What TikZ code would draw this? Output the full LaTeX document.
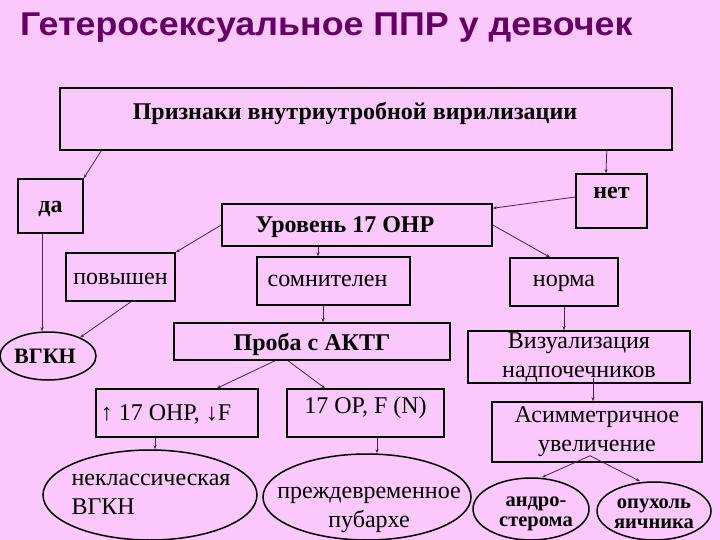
\documentclass[tikz,border=0pt]{standalone}
\usepackage{fontspec}
\setmainfont{Liberation Serif}
\newfontfamily\titlefont{Liberation Sans}
\usepackage{tikz}
\usetikzlibrary{shapes.geometric, arrows.meta}
\definecolor{slidebg}{RGB}{250,200,250}
\definecolor{titlecol}{RGB}{102,0,102}
\definecolor{linkcol}{RGB}{80,30,80}

\begin{document}
\begin{tikzpicture}[x=1pt, y=-1pt,
    box/.style={draw, line width=1.5pt, inner sep=0pt},
    oval/.style={draw, ellipse, line width=1.5pt, inner sep=0pt},
    bold/.style={font=\bfseries\fontsize{24}{29}\selectfont},
    small/.style={font=\bfseries\fontsize{20.5}{20}\selectfont},
    plain/.style={font=\fontsize{24}{29}\selectfont},
    link/.style={linkcol, line width=0.8pt, -{Stealth[length=4pt, width=3pt]}}]
    \fill [slidebg] (0, 0) rectangle (720, 540);
    \useasboundingbox (0, 0) rectangle (720, 540);

    \node [anchor=base west, inner sep=0pt, text=titlecol, font=\titlefont\bfseries\fontsize{33}{40}\selectfont] (title) at (20, 36) {\scalebox{1.085}[1]{Гетеросексуальное ППР у девочек}};

    \node [box, bold, anchor=base, minimum width=612pt, text height=32pt, text depth=30pt] (prz) at (366, 120) {Признаки внутриутробной вирилизации\hspace*{22pt}};
    \node [box, bold, anchor=base, minimum width=65pt, text height=34pt, text depth=20pt] (da) at (50.5, 213) {да};
    \node [box, bold, anchor=base, minimum width=71pt, text height=25pt, text depth=29pt] (net) at (611.5, 199) {нет};
    \node [box, bold, anchor=base, minimum width=270pt, text height=29pt, text depth=13pt] (ur) at (357, 233) {Уровень 17 ОНР\hspace*{24pt}};
    \node [box, plain, anchor=base, minimum width=109pt, text height=31pt, text depth=17pt] (pov) at (120.5, 284) {повышен};
    \node [box, plain, anchor=base, minimum width=153pt, text height=29pt, text depth=19pt] (som) at (333.5, 286) {сомнителен\hspace*{12pt}};
    \node [box, plain, anchor=base, minimum width=108pt, text height=28pt, text depth=20pt] (norm) at (564, 286) {норма};
    \node [box, bold, anchor=base, minimum width=276pt, text height=27pt, text depth=10pt] (prb) at (312, 350) {Проба с АКТГ};
    \node [box, plain, anchor=base, minimum width=162pt, text height=31pt, text depth=17pt] (up) at (177, 420) {↑ 17 ОНР, ↓F\hspace*{22pt}};
    \node [box, plain, anchor=base, minimum width=157pt, text height=24pt, text depth=24pt] (op) at (365.5, 413) {17 ОР, F (N)};
    \node [box, plain, align=center, minimum width=222pt, minimum height=52pt] (viz) at (579, 357) {Визуализация\\надпочечников};
    \node [box, plain, align=center, minimum width=210pt, minimum height=60pt] (asym) at (597, 432) {Асимметричное\\увеличение};

    \node [oval, font=\bfseries\fontsize{22}{26}\selectfont, minimum width=96pt, minimum height=48pt] (vgkn) at (48, 356) {ВГКН\hspace*{6pt}};
    \node [oval, minimum width=214pt, minimum height=90pt] (nekl) at (150, 495) {};
    \node [plain, align=left] (nekl-t) at (151, 494) {неклассическая\\ВГКН};
    \node [oval, minimum width=208pt, minimum height=86pt] (prj) at (367, 497) {};
    \node [plain, align=center] (prj-t) at (369, 510) {преждевременное\\пубархе};
    \node [oval, minimum width=116pt, minimum height=62pt] (andro) at (531, 509) {};
    \node [small, align=center] (andro-t) at (536, 514) {андро-\\стерома};
    \node [oval, minimum width=114pt, minimum height=58pt] (opx) at (654, 511) {};
    \node [small, align=center] (opx-t) at (654, 514) {опухоль\\яичника};

    \draw [link] ([xshift=42pt]prz.south west) -- (da.north east);
    \draw [link] ([xshift=-66pt]prz.south east) -- ([xshift=-5.5pt]net.north);
    \draw [link] ([yshift=4pt]net.west) -- ([yshift=-5pt]ur.north east);
    \draw [link] (ur.west) -- (pov.north east);
    \draw [link] ([xshift=-39pt]ur.south) -- ([xshift=-15.5pt]som.north);
    \draw [link] (ur.east) -- ([xshift=-14pt]norm.north);
    \draw [link] ([xshift=10.5pt]pov.south) -- (vgkn.30);
    \draw [link] ([xshift=-8.5pt]da.south) -- ([xshift=-6pt]vgkn.north);
    \draw [link] ([xshift=-10.5pt]som.south) -- ([xshift=11pt]prb.north);
    \draw [link] ([xshift=-37pt]prb.south) -- ([xshift=40pt]up.north);
    \draw [link] ([xshift=-24pt]prb.south) -- ([xshift=-40.5pt]op.north);
    \draw [link] (norm.south) -- ([xshift=-15pt]viz.north);
    \draw [link] ([xshift=14pt, yshift=6pt]viz.south) -- ([xshift=-4pt]asym.north);
    \draw [link] ([xshift=-22pt]up.south) -- ([xshift=5pt]nekl.north);
    \draw [link] ([xshift=11.5pt]op.south) -- ([xshift=10pt]prj.north);
    \draw [link] ([xshift=-7pt, yshift=7pt]asym.south) -- ([xshift=11pt]andro.north);
    \draw [link] ([xshift=-7pt, yshift=7pt]asym.south) -- ([xshift=-14pt]opx.north);
\end{tikzpicture}
\end{document}
